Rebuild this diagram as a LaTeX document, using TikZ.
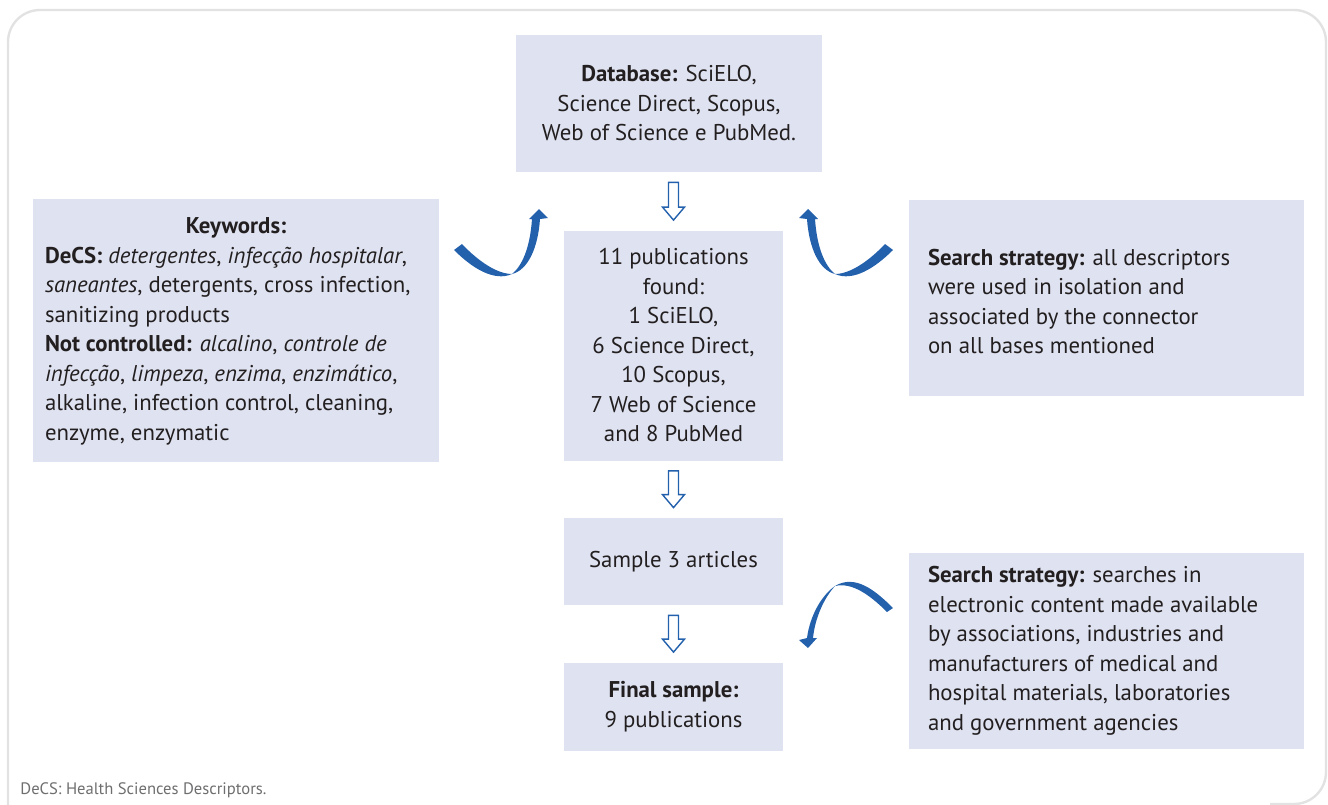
\documentclass[tikz,border=0pt]{standalone}
\usepackage{fontspec}
\setmainfont{PT Sans}
\usetikzlibrary{calc}
\definecolor{boxfill}{RGB}{223,227,241}
\definecolor{arrowblue}{RGB}{36,97,172}
\definecolor{ink}{RGB}{35,31,32}
\definecolor{framegray}{RGB}{226,226,226}
\definecolor{notegray}{RGB}{110,110,112}

% hollow block arrow pointing down from one box to the next
\newcommand\hollowdown[2]{%
  \draw[hollow]
    ($(#1.south -| #2.north)+(-5,10)$) -- ($(#2.north)+(-5,-23)$) --
    ($(#2.north)+(-11,-23)$) -- ($(#2.north)+(0,-10)$) --
    ($(#2.north)+(11,-23)$) -- ($(#2.north)+(5,-23)$) --
    ($(#1.south -| #2.north)+(5,10)$) -- cycle;}

\begin{document}
\begin{tikzpicture}[x=0.5pt,y=-0.5pt,
  txt/.style={text=ink, inner sep=0pt, font=\fontsize{11.4}{14.75}\selectfont},
  box/.style={txt, fill=boxfill, draw=none, inner sep=0pt},
  curved/.style={fill=arrowblue, draw=none},
  hollow/.style={draw=arrowblue, line width=0.7pt, fill=white, line join=miter}]

\useasboundingbox (0,0) rectangle (1328,804);

% outer frame, open at the bottom left
\draw[framegray, line width=1.2pt, rounded corners=16pt]
  (8,840) -- (8,10) -- (1326,10) -- (1326,804) -- (1270,804);

% central column
\node[box, align=center, minimum width=153pt, minimum height=68.5pt] (db) at (669,103.5)
  {\textbf{Database:} SciELO,\\Science Direct, Scopus,\\Web of Science e PubMed.};
\node[box, align=center, minimum width=109.5pt, minimum height=115pt] (pub) at (673.5,345.5)
  {11 publications\\found:\\1 SciELO,\\6 Science Direct,\\10 Scopus,\\7 Web of Science\\and 8 PubMed};
\node[box, align=center, minimum width=109.5pt, minimum height=43.5pt] (sample) at (673.5,561.5)
  {Sample 3 articles};
\node[box, align=center, minimum width=109.5pt, minimum height=44pt] (final) at (673.5,706.5)
  {\textbf{Final sample:}\\9 publications};

% side boxes
\node[box, minimum width=203pt, minimum height=131.5pt] (kw) at (236,330.5) {};
\node[txt, align=left, anchor=west] (kwtxt) at ($(kw.west)+(12,1)$)
  {\hbox to 191pt{\hfil\textbf{Keywords:}\hfil}\\
   \textbf{DeCS:} \textit{detergentes}, \textit{infecção hospitalar},\\
   \textit{saneantes}, detergents, cross infection,\\
   sanitizing products\\
   \textbf{Not controlled:} \textit{alcalino}, \textit{controle de}\\
   \textit{infecção}, \textit{limpeza}, \textit{enzima}, \textit{enzimático},\\
   alkaline, infection control, cleaning,\\
   enzyme, enzymatic};

\node[box, minimum width=197.5pt, minimum height=98pt] (s1) at (1106.5,298) {};
\node[txt, align=left, anchor=west] (s1txt) at ($(s1.west)+(19,3.5)$)
  {\textbf{Search strategy:} all descriptors\\
   were used in isolation and\\
   associated by the connector\\
   on all bases mentioned};

\node[box, minimum width=197.5pt, minimum height=98pt] (s2) at (1106.5,651) {};
\node[txt, align=left, anchor=west] (s2txt) at ($(s2.west)+(19,0)$)
  {\textbf{Search strategy:} searches in\\
   electronic content made available\\
   by associations, industries and\\
   manufacturers of medical and\\
   hospital materials, laboratories\\
   and government agencies};

% block arrows down the column
\hollowdown{db}{pub}
\hollowdown{pub}{sample}
\hollowdown{sample}{final}

% curved ribbon arrow from the keywords box
\fill[curved] (454,250) .. controls (472,268) and (494,282) .. (512,274)
  .. controls (497,274) and (478,261) .. (462,244) -- cycle;
\fill[curved] (512,274) .. controls (522,266) and (530,248) .. (532,219)
  -- (529,219) -- (539,209) -- (548,218) -- (540,219)
  .. controls (538,248) and (528,270) .. (512,274) -- cycle;

% its mirror image from the first search-strategy box
\begin{scope}[xshift=673.5pt, xscale=-1]
\fill[curved] (454,250) .. controls (472,268) and (494,282) .. (512,274)
  .. controls (497,274) and (478,261) .. (462,244) -- cycle;
\fill[curved] (512,274) .. controls (522,266) and (530,248) .. (532,219)
  -- (529,219) -- (539,209) -- (548,218) -- (540,219)
  .. controls (538,248) and (528,270) .. (512,274) -- cycle;
\end{scope}

% curved arrow from the second search-strategy box
\fill[curved] (893,608) .. controls (875,590) and (855,574) .. (835,586)
  .. controls (852,582) and (870,595) .. (887,612) -- cycle;
\fill[curved] (835,586) .. controls (822,595) and (810,615) .. (807,638)
  -- (799,640) -- (808,648) -- (817,638) -- (813,638)
  .. controls (815,618) and (824,598) .. (835,586) -- cycle;

% footnote
\node[anchor=west, inner sep=0pt, text=notegray, font=\fontsize{8.3}{10}\selectfont] (note) at (20,790)
  {DeCS: Health Sciences Descriptors.};
\end{tikzpicture}
\end{document}
